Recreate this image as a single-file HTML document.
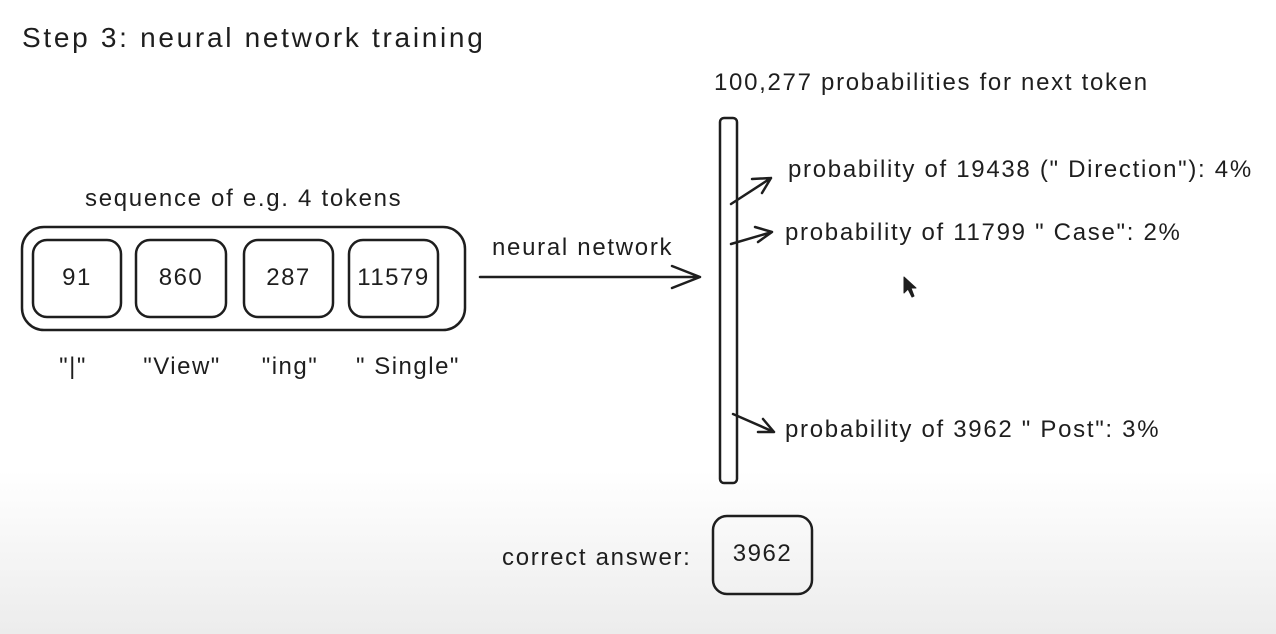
<!DOCTYPE html>
<html><head><style>
body{margin:0;width:1276px;height:634px;overflow:hidden;background:linear-gradient(to bottom,#fff 0,#fff 470px,#ececec 634px);font-family:"Liberation Sans",sans-serif;color:#1e1e1e}
.t{position:absolute;white-space:nowrap;font-size:24px;letter-spacing:1.7px}
.c{position:absolute;text-align:center;font-size:24px;letter-spacing:1.5px;white-space:nowrap}
</style></head><body>
<svg width="1276" height="634" style="position:absolute;left:0;top:0" fill="none" stroke="#1e1e1e" stroke-width="2.5" stroke-linecap="round" stroke-linejoin="round">
<rect x="22" y="227" width="443" height="103" rx="22"/>
<rect x="33" y="240" width="88" height="77" rx="14"/>
<rect x="136" y="240" width="90" height="77" rx="14"/>
<rect x="244" y="240" width="89" height="77" rx="14"/>
<rect x="349" y="240" width="89" height="77" rx="14"/>
<path d="M480 277 L700 277 M672 266 L700 277 L672 288"/>
<rect x="720" y="118" width="17" height="365" rx="4"/>
<path d="M731 204 L771 178 M752 179 L771 178 L762 193"/>
<path d="M731 244 L772 232 M755 227 L772 232 L758 242"/>
<path d="M733 414 L774 432 M763 419 L774 432 L758 432"/>
<rect x="713" y="516" width="99" height="78" rx="14"/>
<path d="M904 277 L904 293 L908 289 L912 297 L914 296 L911 288 L916 288 Z" fill="#1e1e1e" stroke-width="1"/>
</svg>
<div class="t" style="left:22px;top:22px;font-size:28px;letter-spacing:2.7px">Step 3: neural network training</div>
<div class="t" style="left:714px;top:69px">100,277 probabilities for next token</div>
<div class="t" style="left:85px;top:185px">sequence of e.g. 4 tokens</div>
<div class="c" style="left:33px;width:88px;top:264px">91</div>
<div class="c" style="left:136px;width:90px;top:264px">860</div>
<div class="c" style="left:244px;width:89px;top:264px">287</div>
<div class="c" style="left:349px;width:89px;top:264px">11579</div>
<div class="c" style="left:33px;width:80px;top:353px">"|"</div>
<div class="c" style="left:132px;width:100px;top:353px">"View"</div>
<div class="c" style="left:240px;width:100px;top:353px">"ing"</div>
<div class="c" style="left:348px;width:120px;top:353px">" Single"</div>
<div class="t" style="left:492px;top:234px">neural network</div>
<div class="t" style="left:788px;top:156px">probability of 19438 (" Direction"): 4%</div>
<div class="t" style="left:785px;top:219px">probability of 11799 " Case": 2%</div>
<div class="t" style="left:785px;top:416px">probability of 3962 " Post": 3%</div>
<div class="t" style="left:502px;top:544px">correct answer:</div>
<div class="c" style="left:713px;width:99px;top:540px">3962</div>
</body></html>
